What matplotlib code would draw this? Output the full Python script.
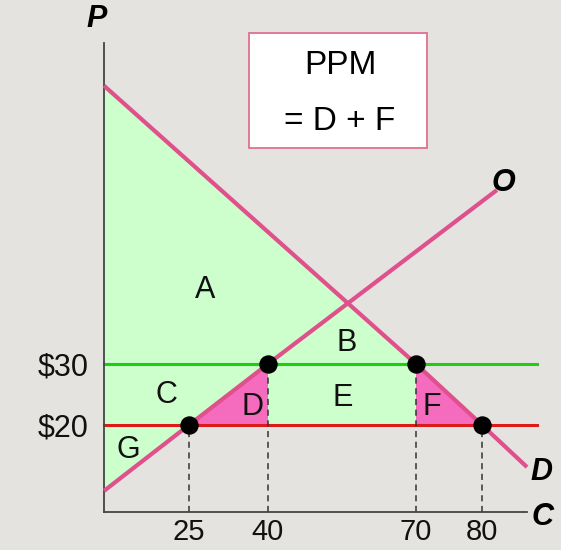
import numpy as np
import matplotlib
matplotlib.use("Agg")
import matplotlib.pyplot as plt

plt.rcParams["font.family"] = ["Liberation Sans", "DejaVu Sans"]

# quantities marked on the C axis and the two prices
quantities = [25, 40, 70, 80]
quantity_labels = ["25", "40", "70", "80"]
prices = [30, 20]
price_labels = ["\\$30", "\\$20"]

# the diagram is not drawn to scale: spacing of the quantity axis
scale_q = [0, 25, 40, 70, 80, 90, 100]
scale_u = [0, 85, 164, 312, 378, 423, 468]

# curves (quantity, price)
supply_q = [0, 25, 40, 83.3]
supply_p = [9.2, 20, 30, 58.5]
demand_q = [0, 70, 80, 90]
demand_p = [75.6, 30, 20, 13.1]

# green area and the two pink triangles
green_q = [0, 70, 70, 25, 0]
green_p = [75.6, 30, 20, 20, 9.2]
d_tri_q = [25, 40, 40]
d_tri_p = [20, 30, 20]
f_tri_q = [70, 80, 70]
f_tri_p = [30, 20, 20]

region_labels = ["A", "B", "C", "D", "E", "F", "G"]
region_q = [28.0, 56.0, 18.5, 37.0, 55.2, 72.4, 7.1]
region_p = [42.1, 33.4, 24.9, 23.0, 24.4, 23.0, 15.9]

bg = "#e5e3e0"
curve_col = "#e0508c"
green_fill = "#ccffcc"
pink_fill = "#f56cbe"


def fwd(q):
    return np.interp(q, scale_q, scale_u)


def inv(u):
    return np.interp(u, scale_u, scale_q)


fig = plt.figure(figsize=(5.61, 5.5), dpi=100, facecolor=bg)
ax = fig.add_axes([104 / 561, 38 / 550, 423 / 561, 469 / 550])
ax.set_facecolor("none")
ax.set_xscale("function", functions=(fwd, inv))
ax.set_xlim(0, 90)
ax.set_ylim(5.74, 82.6)

ax.fill(green_q, green_p, color=green_fill, lw=0, zorder=1)
ax.fill(d_tri_q, d_tri_p, color=pink_fill, lw=0, zorder=1)
ax.fill(f_tri_q, f_tri_p, color=pink_fill, lw=0, zorder=1)

# price lines
ax.plot([0, 92.2], [prices[0]] * 2, color="#22cc11", lw=2.2, clip_on=False, zorder=2)
ax.plot([0, 92.2], [prices[1]] * 2, color="#dd1a1a", lw=2.2, clip_on=False, zorder=2)

ax.plot(supply_q, supply_p, color=curve_col, lw=3, solid_capstyle="butt",
        clip_on=False, zorder=3)
ax.plot(demand_q, demand_p, color=curve_col, lw=3, solid_capstyle="butt",
        clip_on=False, zorder=3)

# dashed drop lines and the dots
dot_p = [20, 30, 30, 20]
for q, p in zip(quantities, dot_p):
    ax.plot([q, q], [5.74, p], color="#333333", lw=1.1, ls=(0, (4, 3)), zorder=2)
ax.scatter(quantities, dot_p, s=150, color="black", zorder=5, clip_on=False)

for lab, q, p in zip(region_labels, region_q, region_p):
    ax.text(q, p, lab, fontsize=22, ha="center", va="center", color="#111111", zorder=6)

ax.spines[["top", "right"]].set_visible(False)
for s in ["left", "bottom"]:
    ax.spines[s].set_color("#444444")
    ax.spines[s].set_linewidth(1.3)

ax.set_xticks(quantities, quantity_labels, fontsize=21)
ax.set_yticks(prices, price_labels, fontsize=22)
ax.tick_params(length=0, colors="#111111")
ax.tick_params(axis="x", pad=4)
ax.tick_params(axis="y", pad=11)
ax.minorticks_off()

# axis letters and curve names
letter_kw = dict(fontsize=22, fontweight="bold", style="italic", ha="center", va="center")
fig.text(97 / 561, 1 - 19 / 550, "P", **letter_kw)
fig.text(543 / 561, 1 - 517 / 550, "C", **letter_kw)
fig.text(503 / 561, 1 - 183 / 550, "O", **letter_kw)
fig.text(541 / 561, 1 - 472 / 550, "D", **letter_kw)

# the formula box
box = plt.Rectangle((249 / 561, 1 - 148 / 550), 178 / 561, 115 / 550,
                    transform=fig.transFigure, facecolor="white",
                    edgecolor="#e07090", lw=1.3)
fig.patches.append(box)
fig.text(340 / 561, 1 - 65 / 550, "PPM", fontsize=24, ha="center", va="center")
fig.text(340 / 561, 1 - 122 / 550, "= D + F", fontsize=24, ha="center", va="center")

fig.savefig("out.png", dpi=100, facecolor=bg)
